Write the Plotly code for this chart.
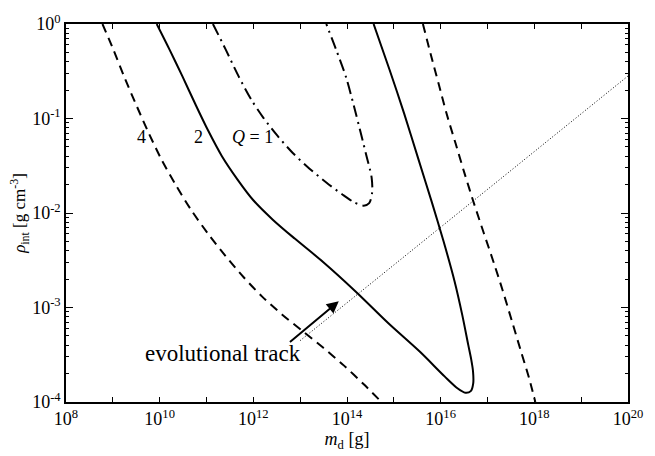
import plotly.graph_objects as go

# log10 values
q4_left_logm = [8.779, 9.011, 9.263, 9.516, 9.768, 10.042, 10.337, 10.674, 11.032, 11.411, 11.789,
                12.189, 12.611, 13.053, 13.495, 13.937, 14.358, 14.737]
q4_left_logrho = [0.0, -0.271, -0.583, -0.875, -1.156, -1.4375, -1.698, -1.969, -2.219, -2.458, -2.677,
                  -2.885, -3.073, -3.25, -3.427, -3.615, -3.8125, -4.0]

q4_right_logm = [15.621, 15.789, 15.958, 16.126, 16.316, 16.505, 16.716, 16.926, 17.137, 17.326, 17.516,
                 17.705, 17.895, 18.021]
q4_right_logrho = [0.0, -0.323, -0.635, -0.948, -1.26, -1.573, -1.906, -2.219, -2.531, -2.823, -3.135,
                   -3.448, -3.76, -4.0]

q2_logm = [9.937, 10.211, 10.484, 10.758, 11.032, 11.326, 11.663, 12.0, 12.421, 12.884, 13.495, 14.189,
           14.884, 15.558, 16.084, 16.358, 16.526, 16.642, 16.695, 16.691, 16.653, 16.589, 16.463, 16.295,
           16.063, 15.811, 15.516, 15.221, 14.905, 14.568]
q2_logrho = [0.0, -0.271, -0.552, -0.844, -1.125, -1.396, -1.646, -1.865, -2.073, -2.271, -2.521, -2.833,
             -3.167, -3.469, -3.729, -3.854, -3.901, -3.885, -3.802, -3.677, -3.552, -3.396, -3.083, -2.719,
             -2.302, -1.885, -1.417, -0.948, -0.479, 0.0]

q1_logm = [11.137, 11.411, 11.684, 11.958, 12.211, 12.505, 12.842, 13.2, 13.558, 13.895, 14.147, 14.358,
           14.474, 14.537, 14.526, 14.4, 14.189, 13.979, 13.768, 13.558]
q1_logrho = [0.0, -0.271, -0.552, -0.802, -0.99, -1.177, -1.365, -1.531, -1.677, -1.802, -1.885, -1.922,
             -1.896, -1.781, -1.625, -1.365, -0.948, -0.5625, -0.271, 0.0]

track_logm = [13.0, 20.0]
track_logrho = [-3.35, -0.55]

x_decades = list(range(8, 21))
x_labels = ["10<sup>%d</sup>" % d if d % 2 == 0 else "" for d in x_decades]
y_decades = [-4, -3, -2, -1, 0]
y_labels = ["10<sup>%d</sup>" % d for d in y_decades]

curve_labels = ["4", "2", "<i>Q</i> = 1"]
curve_label_logm = [9.62, 10.82, 11.98]
curve_label_logrho = [-1.195, -1.195, -1.195]

def p(v):
    return [10.0 ** a for a in v]

fig = go.Figure()
fig.add_trace(go.Scatter(x=p(track_logm), y=p(track_logrho), mode="lines",
                         line=dict(color="black", width=1, dash="1px,2px")))
fig.add_trace(go.Scatter(x=p(q4_left_logm), y=p(q4_left_logrho), mode="lines",
                         line=dict(color="black", width=2, dash="9px,6px", shape="spline", smoothing=0.8)))
fig.add_trace(go.Scatter(x=p(q4_right_logm), y=p(q4_right_logrho), mode="lines",
                         line=dict(color="black", width=2, dash="9px,6px", shape="spline", smoothing=0.8)))
fig.add_trace(go.Scatter(x=p(q2_logm), y=p(q2_logrho), mode="lines",
                         line=dict(color="black", width=2, shape="spline", smoothing=0.8)))
fig.add_trace(go.Scatter(x=p(q1_logm), y=p(q1_logrho), mode="lines",
                         line=dict(color="black", width=2, dash="12px,5px,2px,5px", shape="spline", smoothing=0.8)))

serif = "Liberation Serif, Times New Roman, serif"
for t, lm, lr in zip(curve_labels, curve_label_logm, curve_label_logrho):
    fig.add_annotation(x=lm, y=lr, text=t, showarrow=False, font=dict(family=serif, size=18, color="black"))

fig.add_annotation(x=13.825, y=-2.934, ax=12.75, ay=-3.378, axref="x", ayref="y",
                   text="", showarrow=True, arrowhead=2, arrowsize=1.2, arrowwidth=2, arrowcolor="black")
fig.add_annotation(x=11.347, y=-3.49, text="evolutional track", showarrow=False,
                   font=dict(family=serif, size=23, color="black"))

ax_common = dict(showgrid=False, zeroline=False, showline=True, linecolor="black", linewidth=1.5,
                 mirror="ticks", ticks="inside", tickcolor="black",
                 tickfont=dict(family=serif, size=18, color="black"))
fig.update_xaxes(type="log", range=[8, 20], tickmode="array",
                 tickvals=[10.0 ** d for d in x_decades], ticktext=x_labels, ticklen=5, tickwidth=1,
                 title=dict(text="<i>m</i><sub>d</sub> [g]", font=dict(family=serif, size=18, color="black"),
                            standoff=2),
                 **ax_common)
fig.update_yaxes(type="log", range=[-4, 0], tickmode="array",
                 tickvals=[10.0 ** d for d in y_decades], ticktext=y_labels, ticklen=7, tickwidth=1,
                 minor=dict(tickmode="array",
                            tickvals=[k * 10.0 ** d for d in y_decades[:-1] for k in range(2, 10)],
                            ticks="inside", ticklen=3, tickcolor="black", showgrid=False),
                 title=dict(text="<i>ρ</i><sub>int</sub> [g cm<sup>-3</sup>]",
                            font=dict(family=serif, size=17, color="black"), standoff=2),
                 **ax_common)
fig.update_layout(width=655, height=456, margin=dict(l=66, r=20, t=19, b=53),
                  plot_bgcolor="white", paper_bgcolor="white", showlegend=False)
fig.write_html("out.html")
